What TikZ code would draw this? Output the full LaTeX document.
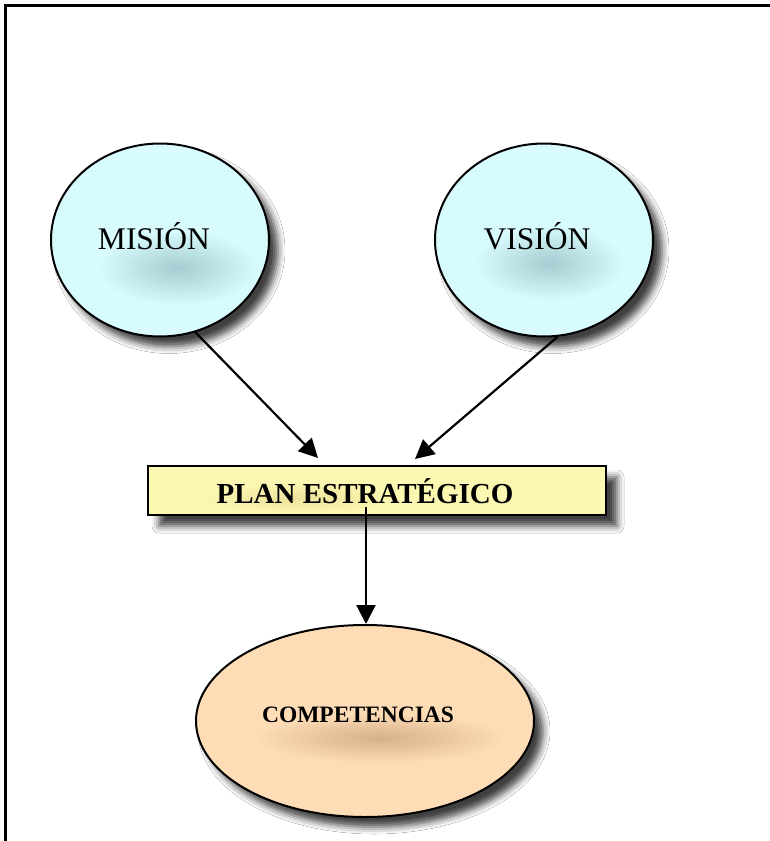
\documentclass[tikz,border=0pt]{standalone}
\usepackage{fontspec}
\setmainfont{Liberation Serif}
\usetikzlibrary{shapes.geometric,arrows.meta,shadows.blur}
\definecolor{cyanfill}{HTML}{D8FBFD}
\definecolor{cyanglow}{HTML}{A6CDD1}
\definecolor{yelfill}{HTML}{FCF8B2}
\definecolor{yelglow}{HTML}{E3D48C}
\definecolor{peachfill}{HTML}{FDDCB6}
\definecolor{peachglow}{HTML}{D6B089}
\tikzset{
  bubble/.style={ellipse, draw=black, line width=2pt, inner sep=0pt,
    blur shadow={shadow xshift=9pt, shadow yshift=-10pt, shadow blur radius=7pt, shadow opacity=75}},
  planbox/.style={rectangle, draw=black, line width=2pt, inner sep=0pt, fill=yelfill,
    minimum width=458pt, minimum height=49pt,
    blur shadow={shadow xshift=11pt, shadow yshift=-11pt, shadow blur radius=7pt, shadow opacity=75}},
  glow/.style={ellipse, draw=none, inner sep=0pt},
  arr/.style={line width=2.2pt, -{Triangle[length=19pt,width=19pt]}},
  lbl/.style={anchor=base, inner sep=0pt, text=black}
}
\begin{document}
\begin{tikzpicture}[x=1pt,y=-1pt]
\useasboundingbox (0,0) rectangle (770,841);
\fill[white] (0,0) rectangle (770,841);
\draw[line width=3pt] (5,845) -- (5,5) -- (775,5);

% ellipses
\node[bubble, fill=cyanfill, minimum width=218pt, minimum height=193pt] (mision) at (160,240) {};
\node[bubble, fill=cyanfill, minimum width=218pt, minimum height=193pt] (vision) at (544,240) {};
\node[bubble, fill=peachfill, minimum width=338pt, minimum height=192pt] (comp) at (365,721) {};
\node[planbox] (plan) at (377,490.5) {};

% glows
\node[glow, shading=radial, inner color=cyanglow, outer color=cyanfill, minimum width=160pt, minimum height=75pt] (gm) at (178,268) {};
\node[glow, shading=radial, inner color=cyanglow, outer color=cyanfill, minimum width=150pt, minimum height=75pt] (gv) at (550,263) {};
\node[glow, shading=radial, inner color=peachglow, outer color=peachfill, minimum width=250pt, minimum height=50pt] (gc) at (380,738) {};
\node[glow, shading=radial, inner color=yelglow, outer color=yelfill, minimum width=200pt, minimum height=30pt, opacity=0.6] (gp) at (300,498) {};

% labels
\node[lbl, font=\fontsize{31.5}{36}\selectfont] (tm) at (154,249) {MISIÓN};
\node[lbl, font=\fontsize{31.5}{36}\selectfont] (tv) at (537,249) {VISIÓN};
\node[lbl, font=\bfseries\fontsize{29}{34}\selectfont] (tp) at (365,503) {PLAN ESTRATÉGICO};
\node[lbl, font=\bfseries\fontsize{23.5}{28}\selectfont] (tc) at (358,722) {COMPETENCIAS};

% connectors
\coordinate (pin1) at (318,458);
\coordinate (pin2) at (415,459);
\coordinate (pout) at (366,507);
\draw[arr] (mision.-69.5) -- (pin1);
\draw[arr] (vision.-82) -- (pin2);
\draw[arr] (pout) -- (pout |- comp.north);
\end{tikzpicture}
\end{document}
